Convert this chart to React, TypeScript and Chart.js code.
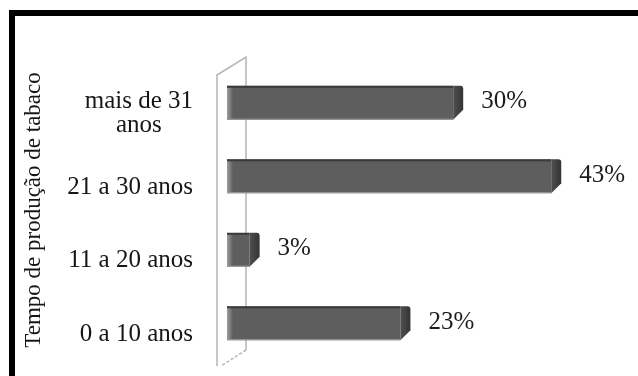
import React, { useEffect, useRef } from 'react';
import { Chart, registerables } from 'chart.js';

Chart.register(...registerables);

const categories: string[][] = [['mais de 31', 'anos'], ['21 a 30 anos'], ['11 a 20 anos'], ['0 a 10 anos']];
const values: number[] = [30, 43, 3, 23];
const valueLabels: string[] = ['30%', '43%', '3%', '23%'];
const axisTitle = 'Tempo de produção de tabaco';
const xMin = 0;
const xMax = 50;

const SERIF = '"Liberation Serif", "Times New Roman", serif';

const decorPlugin = {
  id: 'decor',
  beforeDraw(chart: any) {
    const { ctx, width, height, chartArea } = chart;
    ctx.save();
    ctx.fillStyle = '#ffffff';
    ctx.fillRect(0, 0, width, height);
    // frame
    ctx.fillStyle = '#000000';
    ctx.fillRect(9, 10, width - 9, 6);
    ctx.fillRect(9, 10, 6, height - 10);
    // back wall
    const L = chartArea.left;
    const T = chartArea.top;
    const B = chartArea.bottom;
    ctx.strokeStyle = '#b5b5b5';
    ctx.lineWidth = 1.5;
    ctx.beginPath();
    ctx.moveTo(L - 10, B + 6);
    ctx.lineTo(L - 10, T + 9);
    ctx.lineTo(L + 19, T - 9);
    ctx.lineTo(L + 19, B - 10);
    ctx.stroke();
    ctx.setLineDash([3, 2]);
    ctx.beginPath();
    ctx.moveTo(L + 19, B - 10);
    ctx.lineTo(L - 6, B + 6);
    ctx.stroke();
    ctx.setLineDash([]);
    ctx.restore();
  },
  afterDatasetsDraw(chart: any) {
    const { ctx } = chart;
    const meta = chart.getDatasetMeta(0);
    ctx.save();
    meta.data.forEach((bar: any, i: number) => {
      const p = bar.getProps(['x', 'y', 'base', 'height'], true);
      const R = p.x;
      const T = p.y - p.height / 2;
      const Bt = p.y + p.height / 2;
      const base = p.base;
      // top dark edge
      ctx.fillStyle = '#3b3b3b';
      ctx.fillRect(base, T, R - base, 2);
      // bottom light edge
      ctx.fillStyle = '#9c9c9c';
      ctx.fillRect(base, Bt - 1, R - base, 1);
      // left soft highlight
      const lg = ctx.createLinearGradient(base, 0, base + 6, 0);
      lg.addColorStop(0, 'rgba(200,200,200,0.6)');
      lg.addColorStop(1, 'rgba(200,200,200,0)');
      ctx.fillStyle = lg;
      ctx.fillRect(base, T + 2, 6, p.height - 3);
      // side face
      const g = ctx.createLinearGradient(R, 0, R + 10, 0);
      g.addColorStop(0, '#505050');
      g.addColorStop(1, '#333333');
      ctx.fillStyle = g;
      ctx.beginPath();
      ctx.moveTo(R, T);
      ctx.lineTo(R + 7, T);
      ctx.quadraticCurveTo(R + 10, T, R + 10, T + 3);
      ctx.lineTo(R + 10, Bt - 10);
      ctx.lineTo(R, Bt);
      ctx.closePath();
      ctx.fill();
      // value label
      ctx.fillStyle = '#1c1c1c';
      ctx.font = `25px ${SERIF}`;
      ctx.textAlign = 'left';
      ctx.textBaseline = 'middle';
      ctx.fillText(valueLabels[i], R + 28, p.y - 1);
    });
    ctx.restore();
  },
  afterDraw(chart: any) {
    const { ctx, chartArea } = chart;
    const yScale = chart.scales.y;
    ctx.save();
    ctx.fillStyle = '#161616';
    ctx.font = `25px ${SERIF}`;
    ctx.textAlign = 'center';
    ctx.textBaseline = 'middle';
    const rightEdge = chartArea.left - 34;
    const lh = 24;
    categories.forEach((lines, i) => {
      const cy = yScale.getPixelForTick(i) + 11;
      const maxW = Math.max(...lines.map((l) => ctx.measureText(l).width));
      const cx = rightEdge - maxW / 2;
      const startY = cy - ((lines.length - 1) * lh) / 2;
      lines.forEach((l, j) => ctx.fillText(l, cx, startY + j * lh));
    });
    // axis title
    ctx.font = `23px ${SERIF}`;
    ctx.translate(34, (chartArea.top + chartArea.bottom) / 2 - 3);
    ctx.rotate(-Math.PI / 2);
    ctx.fillText(axisTitle, 0, 0);
    ctx.restore();
  },
};

export default function App() {
  const ref = useRef<HTMLCanvasElement | null>(null);
  useEffect(() => {
    if (!ref.current) return;
    const chart = new Chart(ref.current, {
      type: 'bar',
      data: {
        labels: categories,
        datasets: [
          {
            data: values,
            backgroundColor: '#5e5e5e',
            borderWidth: 0,
            barPercentage: 0.46,
            categoryPercentage: 1,
          },
        ],
      },
      options: {
        indexAxis: 'y',
        responsive: false,
        animation: false,
        layout: { padding: { left: 227, right: 34, top: 66, bottom: 16 } },
        plugins: { legend: { display: false }, tooltip: { enabled: false } },
        scales: {
          x: { display: false, min: xMin, max: xMax },
          y: { display: false },
        },
      },
      plugins: [decorPlugin],
    });
    return () => chart.destroy();
  }, []);
  return (
    <div style={{ position: 'fixed', left: 0, top: 0, width: 638, height: 376, background: '#fff' }}>
      <canvas ref={ref} width={638} height={376} style={{ width: 638, height: 376, display: 'block' }} />
    </div>
  );
}
